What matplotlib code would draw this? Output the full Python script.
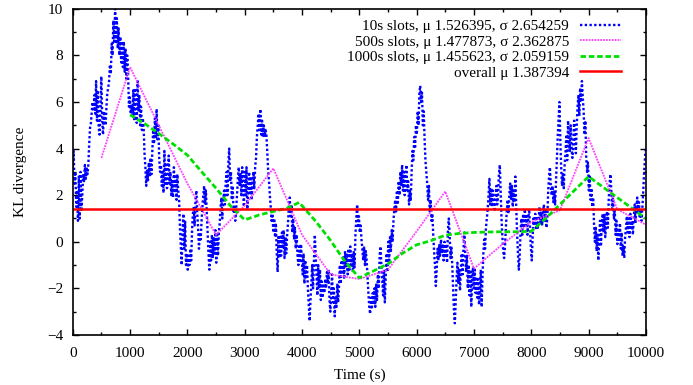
import numpy as np
import matplotlib.pyplot as plt
from matplotlib.ticker import MultipleLocator

plt.rcParams['font.family'] = ['Liberation Serif', 'DejaVu Serif']

# 10s slots (evenly spaced over 0..10000 s)
kl_10s = [
    3.2, 3.9, 2.5, 3.0, 1.5, 2.2, 0.9, 2.8, 1.0, 3.0, 1.3, 2.0, 2.9, 2.6, 3.3, 2.7, 3.2, 2.9, 3.3, 4.2,
    4.9, 5.1, 5.6, 6.0, 5.6, 6.3, 5.5, 6.9, 5.2, 6.5, 4.9, 4.6, 5.5, 7.1, 5.4, 4.6, 5.6, 5.2, 5.0, 5.8,
    6.4, 6.6, 6.9, 7.6, 7.2, 8.5, 8.0, 9.5, 8.6, 10.0, 8.5, 9.6, 8.3, 9.2, 8.0, 8.8, 7.7, 8.6, 7.5, 8.6,
    7.3, 8.3, 7.0, 8.0, 7.2, 5.8, 6.2, 5.5, 5.9, 5.4, 6.5, 5.2, 6.6, 5.8, 5.1, 6.9, 5.6, 6.3, 5.0, 5.8,
    4.8, 5.3, 4.9, 3.8, 3.2, 2.4, 3.1, 2.6, 3.4, 2.8, 3.6, 2.9, 3.8, 4.8, 4.2, 5.3, 4.5, 5.7, 4.4, 5.0,
    3.6, 3.0, 3.3, 2.4, 3.0, 2.1, 3.9, 2.5, 3.4, 2.3, 2.8, 3.7, 2.5, 3.0, 2.0, 2.6, 1.9, 3.2, 2.1, 2.8,
    1.8, 2.9, 2.2, 1.8, 0.6, -0.2, -1.0, 0.5, 1.2, -0.3, 0.9, -1.0, -0.5, -1.2, -0.6, -1.0, -0.3, -0.8, 0.5, 1.2,
    1.5, 0.7, 1.8, 2.2, 1.2, 0.6, -0.3, 0.4, 0.1, 0.9, 1.5, 2.0, 2.4, 1.6, 2.2, 1.3, 0.3, -0.5, -1.2, 0.0,
    -0.8, 0.3, -0.7, 0.2, -0.5, 0.5, -0.9, 0.3, -0.6, 0.4, 0.8, 1.5, 1.9, 1.0, 1.7, 2.2, 1.6, 2.6, 3.0, 2.0,
    3.4, 4.0, 2.6, 3.0, 1.8, 2.4, 1.3, 1.5, 0.9, 1.4, 2.0, 2.7, 3.2, 2.4, 2.9, 2.0, 3.2, 2.3, 1.5, 3.0,
    2.0, 3.2, 1.4, 2.2, 3.0, 2.0, 2.8, 1.8, 2.6, 3.0, 2.3, 3.2, 3.6, 4.5, 5.0, 5.5, 4.8, 5.7, 4.6, 5.2,
    4.5, 5.0, 4.5, 4.8, 4.6, 3.8, 3.1, 2.6, 2.0, 1.5, 0.9, 1.2, 0.4, 1.0, 0.2, 0.8, -0.5, -1.3, 0.2, -0.7,
    0.3, -0.6, 0.4, -0.3, 0.5, -0.7, 0.2, -0.5, 0.3, 0.8, 1.5, 1.9, 1.1, 1.6, 0.4, 1.0, 0.1, 0.6, -0.3, 0.3,
    -0.6, -1.0, -0.2, -0.9, -0.1, -0.7, -1.4, -0.5, -1.8, -0.8, -1.6, -1.0, -2.0, -2.7, -3.4, -2.5, -1.8, -1.0, -2.0, -0.8,
    0.3, -0.6, -1.5, -2.3, -1.0, -2.0, -1.2, -2.5, -1.7, -2.4, -1.8, -2.2, -1.6, -2.0, -1.3, -1.8, -1.2, -2.5, -3.0, -2.2,
    -1.4, -2.6, -2.0, -3.2, -2.4, -2.8, -1.8, -2.6, -1.9, -1.0, -1.8, -0.8, -1.4, -0.6, -1.6, -0.4, -1.1, -0.5, -1.4, -0.3,
    -1.2, -0.2, -1.0, -0.5, -1.3, -0.4, -1.1, 0.3, 1.0, 1.6, 0.6, 1.1, 0.4, 0.7, 0.1, -0.3, -0.8, -0.2, -1.0, -0.4,
    -0.8, -1.5, -2.2, -2.8, -3.1, -2.4, -2.9, -2.2, -2.7, -2.0, -2.8, -1.8, -2.5, -1.4, -2.0, -0.6, -0.2, -1.0, -1.6, -2.3,
    -1.2, -2.6, -1.5, -0.5, -1.3, 0.0, -0.8, 0.2, -0.4, 0.5, 0.0, 0.9, 1.4, 1.8, 1.3, 2.2, 1.6, 2.6, 2.0, 3.0,
    2.4, 3.3, 2.2, 3.0, 2.0, 2.8, 3.3, 2.2, 2.6, 1.6, 2.2, 1.8, 3.0, 3.9, 3.5, 4.5, 4.0, 5.0, 4.6, 5.6,
    5.0, 6.4, 6.7, 6.0, 6.4, 5.0, 5.6, 4.4, 3.5, 3.0, 2.5, 1.8, 2.4, 1.3, 1.8, 0.9, 1.2, 0.3, -0.4, -1.0,
    -1.9, -1.2, -0.3, -0.8, -0.1, -0.6, 0.1, -0.5, -0.1, -0.8, 0.0, -0.6, -0.2, -0.9, 0.5, 1.0, 0.3, -0.7, -0.2, -1.0,
    -2.0, -3.0, -3.5, -2.5, -1.6, -0.9, -1.8, -1.2, -2.1, -1.1, -0.5, -1.4, -0.3, 0.4, -0.4, -1.3, -0.6, -2.0, -1.0, -2.3,
    -1.2, -2.8, -1.5, -1.1, -2.0, -1.2, -2.2, -1.5, -2.4, -1.6, -2.7, -2.0, -1.2, -2.8, -1.5, -0.5, 0.1, -0.3, 0.6, 1.0,
    1.4, 2.0, 2.7, 1.6, 2.3, 1.5, 2.2, 1.8, 1.3, 1.8, 2.4, 1.6, 2.0, 2.9, 3.3, 2.2, 1.0, 0.2, -0.4, -0.7,
    -0.2, 0.6, 1.3, 1.8, 1.2, 2.0, 2.5, 1.8, 2.4, 1.5, 2.2, 1.7, 2.8, 1.5, 0.4, -0.5, -1.2, -0.6, 0.4, 1.0,
    0.3, 1.2, 0.6, 1.4, 0.7, 1.1, 0.3, 1.0, 1.4, 0.6, -0.3, -0.8, 0.2, 1.0, 0.7, 1.2, 0.5, 1.1, 0.6, 1.0,
    1.5, 0.8, 1.3, 0.7, 1.2, 1.6, 0.9, 1.4, 0.6, 1.0, 2.2, 2.8, 3.2, 2.4, 2.0, 2.4, 1.7, 2.2, 1.6, 2.5,
    3.5, 4.5, 5.3, 6.0, 4.4, 3.2, 2.4, 2.9, 2.3, 3.3, 3.8, 4.6, 3.5, 5.2, 4.2, 3.9, 5.0, 4.0, 3.6, 4.2,
    5.2, 4.5, 3.8, 5.0, 5.8, 6.3, 5.4, 6.6, 6.0, 6.9, 6.2, 5.6, 4.6, 5.2, 3.6, 3.0, 3.4, 2.2, 2.8, 1.8,
    2.3, 1.5, 1.9, 0.8, 0.0, 0.6, -0.4, 0.3, -0.8, 0.2, 0.9, -0.2, 0.7, 1.2, 0.4, 1.2, 0.2, 0.8, 1.3, 0.6,
    1.8, 2.5, 2.9, 2.2, 1.4, 2.0, 1.0, 1.4, 0.3, 0.9, -0.1, 0.6, 0.0, 0.8, -0.3, 0.4, -0.6, -0.2, -0.7, 0.2,
    0.6, 1.1, 0.4, 1.0, 0.2, 1.2, 0.6, 0.9, 0.3, 1.0, 1.6, 0.8, 1.5, 1.9, 1.2, 1.7, 1.0, 1.4, 0.9, 1.5,
    2.2, 3.0, 3.6, 4.1,
]
t_10s = np.linspace(0, 10000, len(kl_10s))

# 500s slots
t_500s = [500, 1000, 1500, 2000, 2500, 3000, 3500, 4000, 4500, 5000,
          5500, 6000, 6500, 7000, 7500, 8000, 8500, 9000, 9500, 10000]
kl_500s = [3.6, 7.5, 5.0, 2.5, 0.3, 1.55, 3.15, 0.3, -1.4, -1.6,
           -1.2, 0.45, 2.16, -1.15, -0.1, 0.85, 1.35, 4.45, 1.4, 0.73]

# 1000s slots
t_1000s = [1000, 1250, 1500, 1750, 2000, 2250, 2500, 2750, 3000, 3250, 3500, 3750, 3950,
           4250, 4500, 4750, 5000, 5250, 5500, 5750, 6000, 6250, 6500, 6750, 7000,
           7250, 7500, 7750, 8000, 8250, 8500, 8750, 9000, 9250, 9500, 9750, 10000]
kl_1000s = [5.45, 5.08, 4.65, 4.2, 3.72, 3.0, 2.3, 1.55, 0.94, 1.15, 1.3, 1.45, 1.69,
            0.85, 0.05, -0.85, -1.55, -1.25, -0.95, -0.5, -0.13, 0.05, 0.28, 0.36, 0.40,
            0.42, 0.43, 0.43, 0.45, 1.0, 1.6, 2.2, 2.8, 2.35, 1.9, 1.45, 1.0]

overall_mu = 1.387394

labels = ['10s slots, \u03bc 1.526395, \u03c3 2.654259',
          '500s slots, \u03bc 1.477873, \u03c3 2.362875',
          '1000s slots, \u03bc 1.455623, \u03c3 2.059159',
          'overall \u03bc 1.387394']

fig = plt.figure(figsize=(6.93, 3.85), dpi=100)
ax = fig.add_axes([0.105, 0.130, 0.827, 0.847])

ax.plot(t_10s, kl_10s, color='#0000ff', lw=1.7, linestyle=(0, (1, 1)), label=labels[0])
ax.plot(t_500s, kl_500s, color='#ff40ff', lw=1.3, linestyle=(0, (1, 0.6)), label=labels[1])
ax.plot(t_1000s, kl_1000s, color='#00e000', lw=2.0, linestyle=(0, (2, 1)), label=labels[2])
ax.axhline(overall_mu, color='#ff0000', lw=1.8, label=labels[3])

ax.set_xlim(0, 10000)
ax.set_ylim(-4, 10)
ax.xaxis.set_major_locator(MultipleLocator(1000))
ax.xaxis.set_minor_locator(MultipleLocator(500))
ax.yaxis.set_major_locator(MultipleLocator(2))
ax.yaxis.set_minor_locator(MultipleLocator(1))
ax.tick_params(which='both', direction='in', top=True, right=True, labelsize=11, width=1)
ax.tick_params(which='major', length=4)
ax.tick_params(which='minor', length=2.5)
ax.tick_params(axis='x', which='major', pad=9)
ax.tick_params(axis='y', which='major', pad=7)
for s in ax.spines.values():
    s.set_linewidth(1.2)

ax.set_xlabel('Time (s)', fontsize=11, labelpad=6)
ax.set_ylabel('KL divergence', fontsize=11, labelpad=14)

leg = ax.legend(loc='upper right', frameon=False, fontsize=11, markerfirst=False,
                handlelength=2.7, handletextpad=0.7, labelspacing=0.12,
                borderaxespad=0.3, bbox_to_anchor=(0.975, 1.0))

fig.savefig('out.png', dpi=100)
